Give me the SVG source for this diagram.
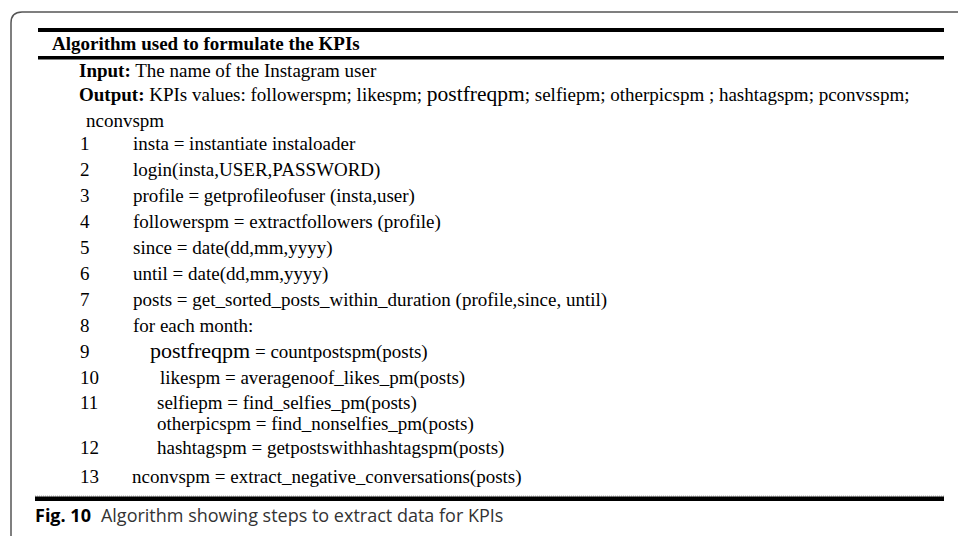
<svg xmlns="http://www.w3.org/2000/svg" width="958" height="536" viewBox="0 0 958 536">
<style>
.t{font-family:"Liberation Serif","Times New Roman",serif;font-size:19px;fill:#000}
.b{font-weight:bold}
.big{font-size:22px}
.cap{font-family:"Open Sans","Noto Sans",sans-serif;font-size:18px;fill:#333}
</style>
<rect width="958" height="536" fill="#fff"/>
<path d="M11,536 V23 Q11,12 22,12 H958" fill="none" stroke="#555" stroke-width="1.5"/>
<g id="rules">
<rect x="38" y="28" width="906" height="4" fill="#000"/>
<rect x="38" y="56" width="906" height="3.5" fill="#000"/>
<line x1="35" y1="496" x2="944" y2="496" stroke="#aaa" stroke-width="1" stroke-dasharray="1 1"/>
<rect x="35" y="496.5" width="909" height="4.5" fill="#000"/>
</g>
<g id="title"><text class="t b" x="52" y="50" font-size="21.5">Algorithm used to formulate the KPIs</text></g>
<g id="io">
<text class="t" x="79" y="77"><tspan class="b">Input:</tspan> The name of the Instagram user</text>
<text class="t" x="79" y="101"><tspan class="b">Output:</tspan> KPIs values: followerspm; likespm; <tspan font-size="21.5">postfreqpm</tspan>; selfiepm; otherpicspm ; hashtagspm; pconvsspm;</text>
<text class="t" x="86" y="127">nconvspm</text>
</g>
<g id="steps">
<text class="t" x="80" y="150">1</text><text class="t" x="133" y="150">insta = instantiate instaloader</text>
<text class="t" x="80" y="176">2</text><text class="t" x="133" y="176">login(insta,USER,PASSWORD)</text>
<text class="t" x="80" y="202">3</text><text class="t" x="133" y="202">profile = getprofileofuser (insta,user)</text>
<text class="t" x="80" y="228">4</text><text class="t" x="133" y="228">followerspm = extractfollowers (profile)</text>
<text class="t" x="80" y="254">5</text><text class="t" x="133" y="254">since = date(dd,mm,yyyy)</text>
<text class="t" x="80" y="280">6</text><text class="t" x="133" y="280">until = date(dd,mm,yyyy)</text>
<text class="t" x="80" y="306">7</text><text class="t" x="133" y="306">posts = get_sorted_posts_within_duration (profile,since, until)</text>
<text class="t" x="80" y="332">8</text><text class="t" x="133" y="332">for each month:</text>
<text class="t" x="80" y="358">9</text><text class="t" x="150" y="358"><tspan class="big">postfreqpm</tspan> = countpostspm(posts)</text>
<text class="t" x="80" y="384">10</text><text class="t" x="160" y="384">likespm = averagenoof_likes_pm(posts)</text>
<text class="t" x="80" y="409">11</text><text class="t" x="157" y="409">selfiepm = find_selfies_pm(posts)</text>
<text class="t" x="157" y="430">otherpicspm = find_nonselfies_pm(posts)</text>
<text class="t" x="80" y="454">12</text><text class="t" x="157" y="454">hashtagspm = getpostswithhashtagspm(posts)</text>
<text class="t" x="80" y="483">13</text><text class="t" x="132" y="483">nconvspm = extract_negative_conversations(posts)</text>
</g>
<g id="caption"><text class="cap" x="35" y="522"><tspan font-weight="bold" fill="#000">Fig. 10</tspan><tspan dx="10">Algorithm showing steps to extract data for KPIs</tspan></text></g>
</svg>
